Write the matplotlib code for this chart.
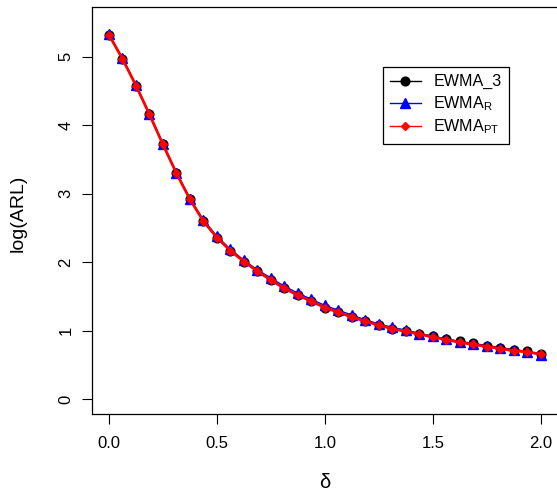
import matplotlib
matplotlib.use("Agg")
import matplotlib.pyplot as plt
from matplotlib.lines import Line2D

plt.rcParams['font.family'] = ['Liberation Sans', 'DejaVu Sans']
plt.rcParams['mathtext.fontset'] = 'custom'
plt.rcParams['mathtext.rm'] = 'Liberation Sans'

delta = [0.0, 0.0625, 0.125, 0.1875, 0.25, 0.3125, 0.375, 0.4375, 0.5, 0.5625,
         0.625, 0.6875, 0.75, 0.8125, 0.875, 0.9375, 1.0, 1.0625, 1.125, 1.1875,
         1.25, 1.3125, 1.375, 1.4375, 1.5, 1.5625, 1.625, 1.6875, 1.75, 1.8125,
         1.875, 1.9375, 2.0]

ewma_3 = [5.32, 4.97, 4.58, 4.16, 3.72, 3.30, 2.92, 2.60, 2.36, 2.17,
          2.01, 1.87, 1.74, 1.62, 1.52, 1.43, 1.34, 1.27, 1.20, 1.14,
          1.08, 1.03, 1.00, 0.96, 0.92, 0.88, 0.845, 0.815, 0.785, 0.755,
          0.725, 0.70, 0.66]

ewma_r = [5.33, 4.98, 4.59, 4.17, 3.73, 3.31, 2.93, 2.62, 2.38, 2.19,
          2.03, 1.89, 1.77, 1.65, 1.55, 1.46, 1.37, 1.30, 1.23, 1.16,
          1.10, 1.05, 1.01, 0.96, 0.92, 0.88, 0.84, 0.81, 0.78, 0.745,
          0.715, 0.69, 0.65]

ewma_pt = [5.32, 4.97, 4.58, 4.16, 3.72, 3.30, 2.92, 2.60, 2.36, 2.17,
           2.01, 1.87, 1.74, 1.62, 1.52, 1.43, 1.34, 1.27, 1.20, 1.14,
           1.08, 1.03, 0.99, 0.95, 0.91, 0.87, 0.83, 0.80, 0.77, 0.74,
           0.71, 0.69, 0.66]

xticks = [0.0, 0.5, 1.0, 1.5, 2.0]
xticklabels = ["0.0", "0.5", "1.0", "1.5", "2.0"]
yticks = [0, 1, 2, 3, 4, 5]
yticklabels = ["0", "1", "2", "3", "4", "5"]

W, H = 557, 495
fig = plt.figure(figsize=(W / 100, H / 100), dpi=100)
ax = fig.add_axes([91.7 / W, (H - 414) / H, (558 - 91.7) / W, (414 - 7) / H])

l1, = ax.plot(delta, ewma_3, color='black', lw=1.0, marker='o', ms=6.3, zorder=3)
l2, = ax.plot(delta, ewma_r, color='blue', lw=1.0, marker='^', ms=7.0, zorder=4)
l3, = ax.plot(delta, ewma_pt, color='red', lw=2.0, marker='D', ms=4.3, zorder=5)

ax.set_xlim(-0.080, 2.080)
ax.set_ylim(-0.2146, 5.727)

for s in ax.spines.values():
    s.set_linewidth(0.9)
    s.set_color('black')

ax.set_xticks(xticks)
ax.set_xticklabels(xticklabels)
ax.set_yticks(yticks)
ax.set_yticklabels(yticklabels, rotation=90, va='center', ha='right')
ax.tick_params(axis='both', direction='out', length=7.2, width=0.8,
               labelsize=12, colors='black')
ax.tick_params(axis='x', pad=9.0)
ax.tick_params(axis='y', pad=6.0)

fig.text(325 / W, 1 - 482 / H, "δ", fontsize=14.5, ha='center', va='center')
fig.text(18.5 / W, 1 - 213 / H, "log(ARL)", fontsize=14, rotation=90,
         ha='center', va='center')

handles = [Line2D([], [], color='black', lw=1.0, marker='o', ms=6.3),
           Line2D([], [], color='blue', lw=1.0, marker='^', ms=7.0),
           Line2D([], [], color='red', lw=1.0, marker='D', ms=3.8)]
labels = ["EWMA_3", r"EWMA$_\mathregular{R}$", r"EWMA$_\mathregular{PT}$"]
leg = ax.legend(handles, labels, loc='upper left',
                bbox_to_anchor=(382.7 / W, 1 - 67 / H), bbox_transform=fig.transFigure,
                fontsize=11.6, frameon=True, fancybox=False, shadow=False,
                handlelength=1.9, handletextpad=0.8, labelspacing=0.3,
                borderpad=0.45, borderaxespad=0.0)
leg.get_frame().set_edgecolor('black')
leg.get_frame().set_linewidth(0.9)
leg.get_frame().set_alpha(1.0)

fig.savefig("out.png", dpi=100)
